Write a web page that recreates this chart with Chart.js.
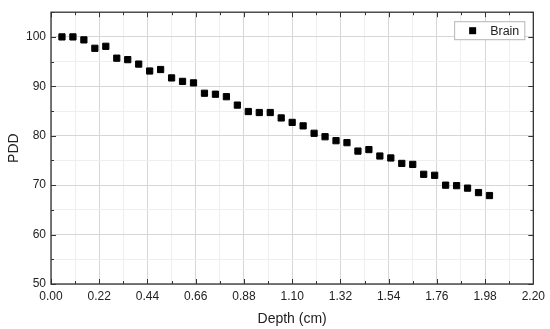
<!DOCTYPE html>
<html>
<head>
<meta charset="utf-8">
<script src="https://cdn.jsdelivr.net/npm/chart.js@4.4.1/dist/chart.umd.min.js"></script>
<style>
  html, body { margin: 0; padding: 0; background: #fff; }
  #wrap { width: 550px; height: 329px; }
</style>
</head>
<body>
<div id="wrap"><canvas id="c" width="550" height="329"></canvas></div>
<script>
const depth = [0.05, 0.10, 0.15, 0.20, 0.25, 0.30, 0.35, 0.40, 0.45, 0.50,
  0.55, 0.60, 0.65, 0.70, 0.75, 0.80, 0.85, 0.90, 0.95, 1.00,
  1.05, 1.10, 1.15, 1.20, 1.25, 1.30, 1.35, 1.40, 1.45, 1.50,
  1.55, 1.60, 1.65, 1.70, 1.75, 1.80, 1.85, 1.90, 1.95, 2.00];
const brain = [100.0, 100.0, 99.4, 97.7, 98.1, 95.7, 95.4, 94.5, 93.1, 93.4,
  91.7, 91.0, 90.7, 88.6, 88.4, 87.9, 86.2, 84.9, 84.7, 84.7,
  83.6, 82.7, 82.0, 80.5, 79.8, 79.0, 78.6, 76.9, 77.2, 75.9,
  75.5, 74.4, 74.2, 72.2, 72.0, 70.0, 69.9, 69.4, 68.5, 67.9];
const xLabels = ["0.00", "0.22", "0.44", "0.66", "0.88", "1.10", "1.32", "1.54", "1.76", "1.98", "2.20"];
const yLabels = ["50", "60", "70", "80", "90", "100"];

const FONT = "'Liberation Sans', Arial, sans-serif";
const INK = "#222";

// major ticks from the label lists, minor ticks half way between
function buildTicks(labels, top) {
  const vals = labels.map(Number);
  const out = [];
  vals.forEach((v, i) => {
    out.push({ value: v, isMajor: true, text: labels[i] });
    const next = i < vals.length - 1 ? vals[i + 1] : top;
    if (next !== undefined && next > v) out.push({ value: (v + next) / 2, isMajor: false, text: "" });
  });
  return out;
}

function gridColor(ctx) {
  return ctx.tick && ctx.tick.isMajor ? "#d6d6d6" : "#eeeeee";
}

// frame with inward ticks on all four sides + legend box
const framePlugin = {
  id: "frame",
  afterDraw(chart) {
    const { ctx, chartArea: a, scales } = chart;
    ctx.save();
    ctx.strokeStyle = "#333";
    ctx.lineWidth = 1.3;
    ctx.strokeRect(a.left, a.top, a.right - a.left, a.bottom - a.top);
    ctx.lineWidth = 1;
    scales.x.ticks.forEach((t, i) => {
      const px = Math.round(scales.x.getPixelForTick(i)) + 0.5;
      const len = t.isMajor ? 5 : 3;
      ctx.beginPath();
      ctx.moveTo(px, a.bottom); ctx.lineTo(px, a.bottom - len);
      ctx.moveTo(px, a.top); ctx.lineTo(px, a.top + len);
      ctx.stroke();
    });
    scales.y.ticks.forEach((t, i) => {
      const py = Math.round(scales.y.getPixelForTick(i)) + 0.5;
      const len = t.isMajor ? 5 : 3;
      ctx.beginPath();
      ctx.moveTo(a.left, py); ctx.lineTo(a.left + len, py);
      ctx.moveTo(a.right, py); ctx.lineTo(a.right - len, py);
      ctx.stroke();
    });

    // legend
    const ds = chart.data.datasets[0];
    ctx.font = "12.5px " + FONT;
    const tw = ctx.measureText(ds.label).width;
    const bw = 36 + tw + 5, bh = 18;
    const bx = a.right - 9 - bw, by = a.top + 9;
    ctx.fillStyle = "#fff";
    ctx.fillRect(bx, by, bw, bh);
    ctx.strokeStyle = "#b5b5b5";
    ctx.strokeRect(bx + 0.5, by + 0.5, bw, bh);
    ctx.fillStyle = "#000";
    ctx.fillRect(bx + 15, by + 6, 7, 7);
    ctx.fillStyle = INK;
    ctx.textBaseline = "middle";
    ctx.fillText(ds.label, bx + 36, by + bh / 2 + 1);
    ctx.restore();
  },
};

new Chart(document.getElementById("c"), {
  type: "scatter",
  data: {
    datasets: [{
      label: "Brain",
      data: depth.map((d, i) => ({ x: d, y: brain[i] })),
      pointStyle: "rect",
      pointRadius: 4.4,
      pointBorderWidth: 1,
      backgroundColor: "#000",
      borderColor: "#000",
    }],
  },
  options: {
    responsive: false,
    animation: false,
    layout: { padding: { left: 0, right: 15, top: 4, bottom: 0 } },
    plugins: { legend: { display: false }, tooltip: { enabled: false } },
    scales: {
      x: {
        type: "linear",
        min: 0,
        max: 2.2,
        afterBuildTicks: (s) => { s.ticks = buildTicks(xLabels); },
        afterFit: (s) => { s.height = 45; },
        grid: { color: gridColor, drawTicks: false, lineWidth: 1 },
        border: { display: false },
        ticks: {
          autoSkip: false,
          maxRotation: 0,
          padding: 5,
          color: INK,
          font: { family: FONT, size: 12 },
          callback: (v, i, ticks) => ticks[i].text,
        },
        title: {
          display: true,
          text: "Depth (cm)",
          color: INK,
          font: { family: FONT, size: 14 },
          padding: { top: 0, bottom: 1.5 },
        },
      },
      y: {
        type: "linear",
        min: 50,
        max: 105,
        afterBuildTicks: (s) => { s.ticks = buildTicks(yLabels, 110).filter((t) => t.value <= 105); },
        afterFit: (s) => { s.width = 51; },
        grid: { color: gridColor, drawTicks: false, lineWidth: 1 },
        border: { display: false },
        ticks: {
          autoSkip: false,
          padding: 5,
          color: INK,
          font: { family: FONT, size: 12 },
          callback: (v, i, ticks) => ticks[i].text,
        },
        title: {
          display: true,
          text: "PDD",
          color: INK,
          font: { family: FONT, size: 14 },
          padding: { top: 5.5, bottom: 0 },
        },
      },
    },
  },
  plugins: [framePlugin],
});
</script>
</body>
</html>
